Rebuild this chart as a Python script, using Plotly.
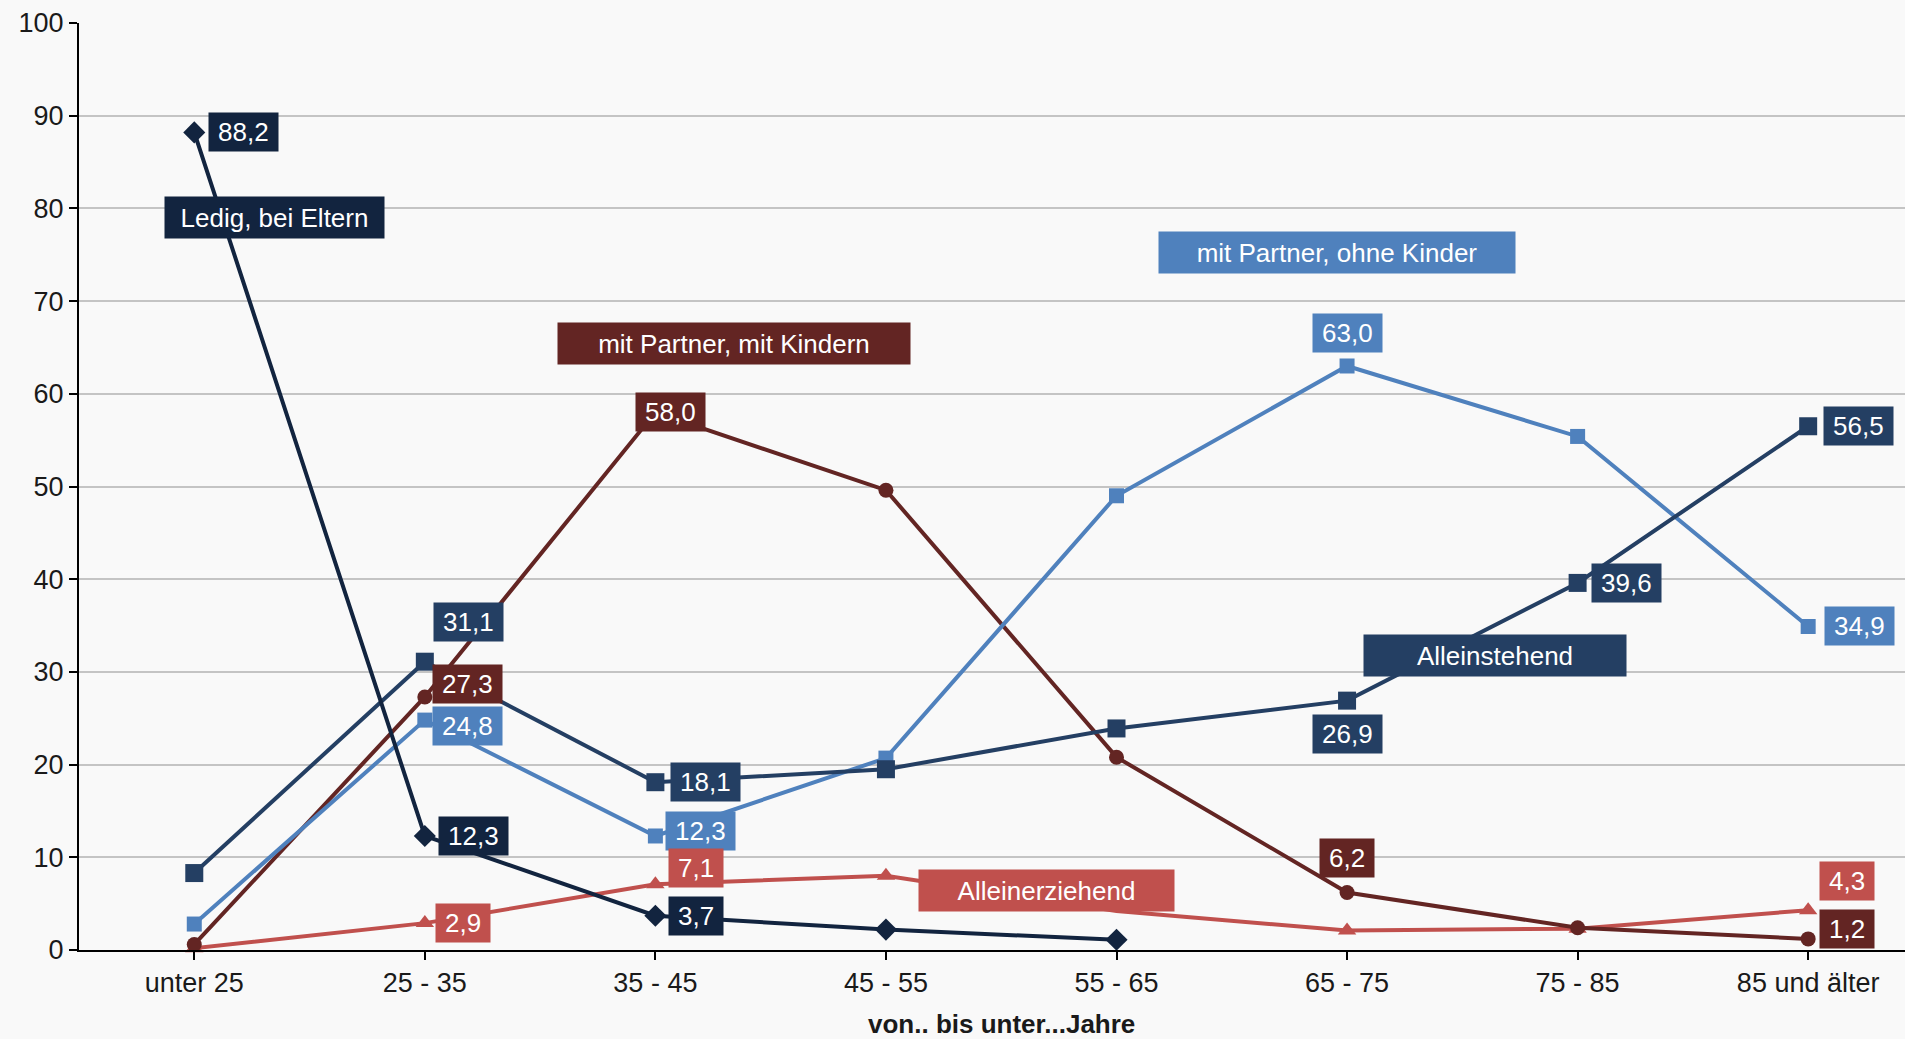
import plotly.graph_objects as go

categories = ["unter 25", "25 - 35", "35 - 45", "45 - 55", "55 - 65", "65 - 75", "75 - 85", "85 und älter"]
ledig_bei_eltern = [88.2, 12.3, 3.7, 2.2, 1.1, None, None, None]
alleinstehend = [8.3, 31.1, 18.1, 19.5, 23.9, 26.9, 39.6, 56.5]
partner_ohne_kinder = [2.8, 24.8, 12.3, 20.7, 49.0, 63.0, 55.4, 34.9]
partner_mit_kindern = [0.6, 27.3, 58.0, 49.6, 20.8, 6.2, 2.4, 1.2]
alleinerziehend = [0.2, 2.9, 7.1, 8.0, 4.2, 2.1, 2.3, 4.3]
y_ticks = [0, 10, 20, 30, 40, 50, 60, 70, 80, 90, 100]
x_title = "von.. bis unter...Jahre"

FONT = "Liberation Sans, Arial, sans-serif"
FS = 26
TFS = 27
xs = list(range(len(categories)))

# name, values, color, marker symbol, marker size
series = [
    ("Alleinerziehend", alleinerziehend, "#c0504d", "triangle-up", 16),
    ("mit Partner, mit Kindern", partner_mit_kindern, "#632523", "circle", 15),
    ("mit Partner, ohne Kinder", partner_ohne_kinder, "#4f81bd", "square", 15),
    ("Alleinstehend", alleinstehend, "#243f63", "square", 18),
    ("Ledig, bei Eltern", ledig_bei_eltern, "#12243f", "diamond", 17),
]

fig = go.Figure()
for name, vals, col, sym, size in series:
    sizes = [size] * len(vals)
    if name == "Alleinerziehend":
        sizes[4] = 0
    fig.add_trace(go.Scatter(
        x=xs, y=vals, mode="lines+markers", name=name,
        line=dict(color=col, width=4),
        marker=dict(symbol=sym, size=sizes, color=col, opacity=1, line=dict(width=0)),
        cliponaxis=False, connectgaps=False,
    ))

colors = {s[0]: s[2] for s in series}
data = {s[0]: s[1] for s in series}

# value label placement: series -> list of (index, dx, dy_down) in pixels
value_labels = {
    "Ledig, bei Eltern": [(0, 49, 0), (1, 49, 0), (2, 41, 0)],
    "Alleinstehend": [(1, 44, -40), (2, 50, 0), (5, 0, 33), (6, 49, 0), (7, 50, 0)],
    "mit Partner, ohne Kinder": [(1, 43, 6), (2, 45, -5), (5, 0, -33), (7, 51, 0)],
    "mit Partner, mit Kindern": [(1, 43, -13), (2, 15, 0), (5, 0, -35), (7, 39, -10)],
    "Alleinerziehend": [(1, 38, 0), (2, 41, -16), (7, 39, -29)],
}


def text_w(t):
    w = 0
    for ch in t:
        w += 0.278 if ch in ",." else 0.556
    return w * FS


for name, items in value_labels.items():
    for i, dx, dy in items:
        v = data[name][i]
        txt = f"{v:.1f}".replace(".", ",")
        fig.add_annotation(
            x=xs[i], y=v, xref="x", yref="y", text=txt, showarrow=False,
            xshift=dx, yshift=-dy, xanchor="center", yanchor="middle",
            bgcolor=colors[name], font=dict(family=FONT, size=FS, color="white"),
            width=text_w(txt) + 18, height=38, borderpad=0,
        )

# series name boxes: name -> (x in category units, y value, box width)
name_boxes = {
    "Ledig, bei Eltern": (0.348, 79.0, 219),
    "mit Partner, mit Kindern": (2.34, 65.4, 352),
    "mit Partner, ohne Kinder": (4.955, 75.2, 356),
    "Alleinstehend": (5.64, 31.8, 262),
    "Alleinerziehend": (3.695, 6.4, 255),
}
for name, (bx, by, bw) in name_boxes.items():
    fig.add_annotation(
        x=bx, y=by, xref="x", yref="y", text=name, showarrow=False,
        xanchor="center", yanchor="middle", bgcolor=colors[name],
        font=dict(family=FONT, size=FS, color="white"),
        width=bw, height=41, borderpad=0,
    )

fig.add_annotation(
    x=3.5, y=0, xref="x", yref="paper", text=f"<b>{x_title}</b>", showarrow=False,
    yshift=-74, xanchor="center", yanchor="middle",
    font=dict(family=FONT, size=FS, color="#1a1a1a"),
)

fig.update_layout(
    width=1905, height=1039,
    margin=dict(l=79, r=0, t=23, b=89),
    paper_bgcolor="#f9f9f9", plot_bgcolor="#f9f9f9",
    showlegend=False,
    font=dict(family=FONT, size=FS, color="#1a1a1a"),
    xaxis=dict(
        range=[-0.5, 7.42], tickvals=xs, ticktext=categories,
        showgrid=False, zeroline=False, showline=True, linecolor="black", linewidth=2,
        ticks="outside", ticklen=8, tickwidth=2, tickcolor="black",
        tickfont=dict(family=FONT, size=TFS, color="#1a1a1a"),
    ),
    yaxis=dict(
        range=[0, 100], tickvals=y_ticks, showgrid=True, gridcolor="#c4c4c4", gridwidth=2,
        zeroline=False, showline=True, linecolor="black", linewidth=2,
        ticks="outside", ticklen=8, tickwidth=2, tickcolor="black",
        tickfont=dict(family=FONT, size=TFS, color="#1a1a1a"),
    ),
)

fig.write_html(
    "out.html",
    config={"displayModeBar": False},
    post_script="document.body.style.margin='0';document.body.style.padding='0';document.body.style.overflow='hidden';",
)
